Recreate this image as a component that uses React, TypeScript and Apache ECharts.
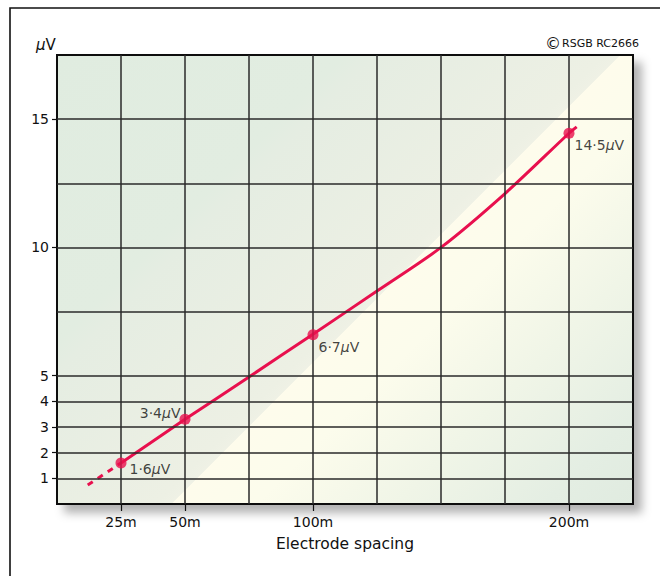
import React, { useEffect, useRef } from 'react';
import * as echarts from 'echarts';

// Measured points (electrode spacing in m, signal in µV)
const spacing = [25, 50, 100, 200];
const voltage = [1.6, 3.3, 6.6, 14.45];
const pointLabels = ['1·6', '3·4', '6·7', '14·5'];

// Traced curve
const curveX = [25, 50, 75, 100, 125, 150, 175, 200, 203];
const curveY = [1.6, 3.3, 4.95, 6.62, 8.3, 10.0, 12.1, 14.45, 14.7];
const dashX = [12, 25];
const dashY = [0.74, 1.6];

// Axis ticks / grid
const yTicks = [1, 2, 3, 4, 5, 10, 15];
const xTicks = [25, 50, 100, 200];
const yGrid = [1, 2, 3, 4, 5, 7.5, 10, 12.5, 15];
const xGrid = [25, 50, 75, 100, 125, 150, 175, 200];

const FONT = '"DejaVu Sans", sans-serif';
const RED = '#e8104e';

export default function App() {
  const ref = useRef<HTMLDivElement>(null);
  useEffect(() => {
    const chart = echarts.init(ref.current!, null, { renderer: 'svg' });
    const labelPos: any[] = [
      { position: 'right', offset: [-2, 6] },
      { position: 'left', offset: [6, -6] },
      { position: 'right', offset: [-5, 12] },
      { position: 'right', offset: [-5, 12] },
    ];
    const option: any = {
      animation: false,
      textStyle: { fontFamily: FONT },
      grid: {
        show: true,
        left: 57,
        top: 55,
        width: 576,
        height: 449,
        borderColor: '#111',
        borderWidth: 2,
        shadowBlur: 10,
        shadowColor: 'rgba(0,0,0,0.3)',
        shadowOffsetX: 8,
        shadowOffsetY: 8,
        backgroundColor: {
          type: 'linear',
          x: 57,
          y: 55,
          x2: 657,
          y2: 655,
          global: true,
          colorStops: [
            { offset: 0, color: '#e0ece0' },
            { offset: 0.24, color: '#e2ede1' },
            { offset: 0.265, color: '#e5ede2' },
            { offset: 0.457, color: '#edf0e4' },
            { offset: 0.469, color: '#eff1e5' },
            { offset: 0.47, color: '#fefcec' },
            { offset: 0.54, color: '#fcfcec' },
            { offset: 0.657, color: '#f0f5e7' },
            { offset: 0.78, color: '#e4eee3' },
            { offset: 0.854, color: '#e0ebe0' },
            { offset: 1, color: '#e0ebe0' },
          ],
        },
      },
      graphic: [
        {
          type: 'rect',
          shape: { x: 10, y: 8, width: 720, height: 640 },
          style: { fill: 'none', stroke: '#111', lineWidth: 1.6 },
          silent: true,
        },
        {
          type: 'text',
          x: 36,
          y: 45,
          style: {
            text: '{m|μ}{v|V}',
            verticalAlign: 'middle',
            fill: '#111',
            rich: {
              m: { fontStyle: 'italic', fontSize: 15, fontFamily: FONT },
              v: { fontSize: 15, fontFamily: FONT },
            },
          },
        },
        {
          type: 'text',
          x: 545,
          y: 43,
          style: {
            text: '{c|©}{t|RSGB RC2666}',
            verticalAlign: 'middle',
            fill: '#111',
            rich: {
              c: { fontSize: 16, fontFamily: FONT, padding: [0, 1, 0, 0] },
              t: { fontSize: 11, fontFamily: FONT },
            },
          },
        },
      ],
      xAxis: {
        type: 'value',
        min: 0,
        max: 225,
        interval: 25,
        axisLine: { show: false },
        splitLine: { show: false },
        axisTick: {
          show: true,
          customValues: xTicks,
          length: 7,
          lineStyle: { color: '#111', width: 1.2 },
        },
        axisLabel: {
          customValues: xTicks,
          formatter: (v: number) => `${v}m`,
          margin: 11,
          color: '#111',
          fontSize: 14,
          fontFamily: FONT,
        },
        name: 'Electrode spacing',
        nameLocation: 'middle',
        nameGap: 32,
        nameTextStyle: { color: '#111', fontSize: 15.5, fontFamily: FONT },
      },
      yAxis: {
        type: 'value',
        min: 0,
        max: 17.5,
        interval: 2.5,
        axisLine: { show: false },
        splitLine: { show: false },
        axisTick: {
          show: true,
          customValues: yTicks,
          length: 5,
          lineStyle: { color: '#111', width: 1.2 },
        },
        axisLabel: {
          customValues: yTicks,
          margin: 8,
          color: '#111',
          fontSize: 14,
          fontFamily: FONT,
        },
      },
      series: [
        {
          type: 'line',
          data: [],
          z: 1,
          silent: true,
          markLine: {
            silent: true,
            symbol: ['none', 'none'],
            label: { show: false },
            lineStyle: { color: '#2a2a2a', width: 1.5, type: 'solid' },
            emphasis: { disabled: true },
            data: [
              ...yGrid.map((v) => ({ yAxis: v })),
              ...xGrid.map((v) => ({ xAxis: v })),
            ],
          },
        },
        {
          type: 'line',
          z: 3,
          data: dashX.map((x, i) => [x, dashY[i]]),
          showSymbol: false,
          lineStyle: { color: RED, width: 3, type: [6, 6] },
          silent: true,
        },
        {
          type: 'line',
          z: 4,
          data: curveX.map((x, i) => [x, curveY[i]]),
          smooth: 0.3,
          showSymbol: false,
          lineStyle: { color: RED, width: 3 },
          silent: true,
        },
        {
          type: 'scatter',
          z: 5,
          symbolSize: 11,
          itemStyle: { color: RED },
          silent: true,
          data: spacing.map((x, i) => ({
            value: [x, voltage[i]],
            label: {
              show: true,
              ...labelPos[i],
              formatter: `{a|${pointLabels[i]}}{m|μ}{a|V}`,
              rich: {
                a: { fontSize: 14, color: '#111', fontFamily: FONT },
                m: { fontSize: 14, color: '#111', fontStyle: 'italic', fontFamily: FONT },
              },
            },
          })),
        },
      ],
    };
    chart.setOption(option);
    return () => chart.dispose();
  }, []);
  return (
    <div
      ref={ref}
      style={{ position: 'absolute', left: 0, top: 0, width: 660, height: 576, background: '#fff' }}
    />
  );
}
